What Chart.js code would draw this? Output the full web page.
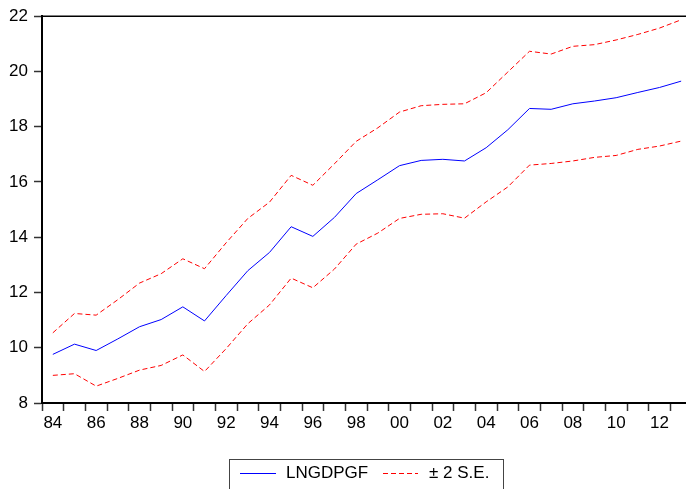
<!DOCTYPE html>
<html>
<head>
<meta charset="utf-8">
<script src="https://cdn.jsdelivr.net/npm/chart.js@4"></script>
<style>
  html, body { margin: 0; padding: 0; background: #fff; overflow: hidden; }
  #wrap { width: 686px; height: 489px; overflow: hidden; position: relative; }
  canvas { display: block; }
</style>
</head>
<body>
<div id="wrap"><canvas id="chart" width="700" height="500"></canvas></div>
<script>
const years = ["84", "85", "86", "87", "88", "89", "90", "91", "92", "93",
  "94", "95", "96", "97", "98", "99", "00", "01", "02", "03",
  "04", "05", "06", "07", "08", "09", "10", "11", "12", "13"];

const lngdpgf = [9.76, 10.13, 9.90, 10.32, 10.76, 11.02, 11.48, 10.97, 11.89, 12.79,
  13.45, 14.38, 14.03, 14.72, 15.58, 16.08, 16.59, 16.78, 16.82, 16.76,
  17.24, 17.89, 18.66, 18.63, 18.83, 18.93, 19.05, 19.24, 19.42, 19.65];

const upperBand = [10.54, 11.24, 11.18, 11.74, 12.34, 12.68, 13.22, 12.86, 13.80, 14.68,
  15.27, 16.24, 15.88, 16.66, 17.47, 17.96, 18.53, 18.76, 18.81, 18.83,
  19.23, 19.98, 20.73, 20.63, 20.91, 20.97, 21.14, 21.34, 21.57, 21.87];

const lowerBand = [9.00, 9.06, 8.61, 8.89, 9.19, 9.36, 9.74, 9.14, 9.97, 10.87,
  11.55, 12.52, 12.17, 12.85, 13.75, 14.15, 14.68, 14.83, 14.85, 14.69,
  15.28, 15.82, 16.61, 16.67, 16.76, 16.89, 16.96, 17.18, 17.30, 17.48];

const yTicks = [8, 10, 12, 14, 16, 18, 20, 22];

const font = "Liberation Sans, Arial, sans-serif";

// top frame line + boxed legend like the eviews output
const framePlugin = {
  id: "frame",
  afterDraw(chart) {
    const { ctx, chartArea } = chart;
    ctx.save();
    ctx.strokeStyle = "#000";
    ctx.lineWidth = 1.5;
    ctx.beginPath();
    ctx.moveTo(chartArea.left, chartArea.top);
    ctx.lineTo(chartArea.right, chartArea.top);
    ctx.stroke();

    ctx.lineWidth = 1;
    ctx.strokeStyle = "#444";
    ctx.strokeRect(229.5, 459.5, 274, 60);

    const ds = chart.data.datasets;
    const y = 473;
    ctx.lineWidth = 1;
    ctx.strokeStyle = ds[0].borderColor;
    ctx.beginPath();
    ctx.moveTo(240, y + 0.5);
    ctx.lineTo(276, y + 0.5);
    ctx.stroke();

    ctx.strokeStyle = ds[1].borderColor;
    ctx.setLineDash(ds[1].borderDash);
    ctx.beginPath();
    ctx.moveTo(383, y + 0.5);
    ctx.lineTo(418, y + 0.5);
    ctx.stroke();
    ctx.setLineDash([]);

    ctx.fillStyle = "#000";
    ctx.font = "17px " + font;
    ctx.textBaseline = "middle";
    ctx.fillText(ds[0].label, 286, y);
    ctx.fillText(ds[1].label, 429, y);
    ctx.restore();
  },
};

const ctx = document.getElementById("chart").getContext("2d");
new Chart(ctx, {
  type: "line",
  data: {
    labels: years,
    datasets: [
      {
        label: "LNGDPGF",
        data: lngdpgf,
        borderColor: "#0000FF",
        borderWidth: 1,
        pointRadius: 0,
        tension: 0,
      },
      {
        label: "\u00B1 2 S.E.",
        data: upperBand,
        borderColor: "#FF0000",
        borderWidth: 1,
        borderDash: [5, 3],
        pointRadius: 0,
        tension: 0,
      },
      {
        label: "lower",
        data: lowerBand,
        borderColor: "#FF0000",
        borderWidth: 1,
        borderDash: [5, 3],
        pointRadius: 0,
        tension: 0,
      },
    ],
  },
  options: {
    responsive: false,
    animation: false,
    layout: { padding: { top: 14, right: 8, bottom: 0, left: 0 } },
    plugins: {
      legend: { display: false },
      tooltip: { enabled: false },
    },
    scales: {
      x: {
        type: "category",
        offset: true,
        afterFit(scale) { scale.height = 97; },
        grid: {
          offset: true,
          drawOnChartArea: false,
          tickLength: 8,
          tickColor: "#333",
          tickWidth: 1.5,
        },
        border: { display: true, color: "#000", width: 2 },
        ticks: {
          autoSkip: false,
          maxRotation: 0,
          padding: 2,
          color: "#000",
          font: { family: font, size: 17 },
          callback: (val, i) => (i % 2 === 0 ? years[i] : ""),
        },
      },
      y: {
        min: 8,
        max: 22,
        afterFit(scale) { scale.width = 42; },
        afterBuildTicks(scale) { scale.ticks = yTicks.map((v) => ({ value: v })); },
        grid: {
          drawOnChartArea: false,
          tickLength: 8,
          tickColor: "#333",
          tickWidth: 1.5,
        },
        border: { display: true, color: "#000", width: 2 },
        ticks: {
          padding: 6,
          color: "#000",
          font: { family: font, size: 17 },
        },
      },
    },
  },
  plugins: [framePlugin],
});
</script>
</body>
</html>
